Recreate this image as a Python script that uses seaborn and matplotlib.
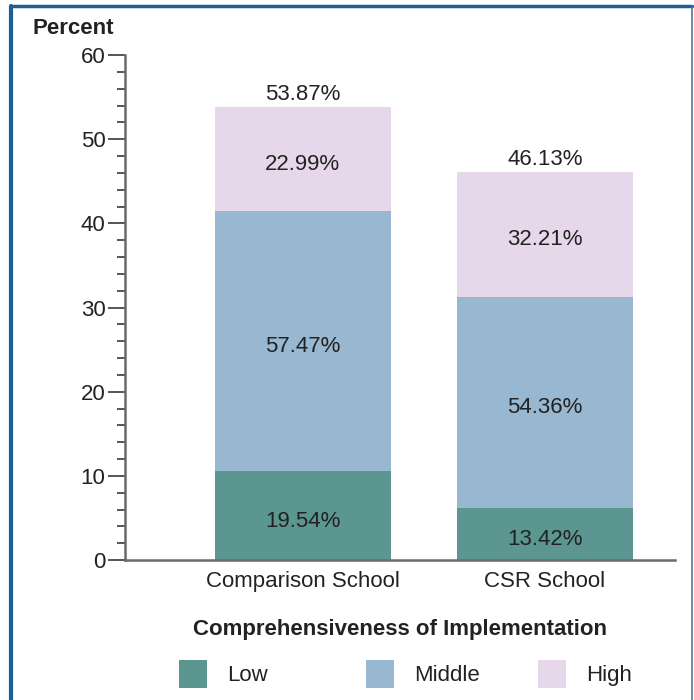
import matplotlib
matplotlib.use("Agg")
import matplotlib.pyplot as plt
from matplotlib.lines import Line2D
from matplotlib.patches import Patch
from matplotlib.ticker import MultipleLocator
import numpy as np
import pandas as pd
import seaborn as sns

# Share of students in each school type, and the breakdown by implementation level
schools = ["Comparison School", "CSR School"]
totals = [53.87, 46.13]
low_pct = [19.54, 13.42]
middle_pct = [57.47, 54.36]
high_pct = [22.99, 32.21]
levels = ["Low", "Middle", "High"]
colors = {"Low": "#5b9691", "Middle": "#98b7d0", "High": "#e6d8ea"}

sns.set_style("white")
plt.rcParams["font.family"] = ["Liberation Sans", "DejaVu Sans"]

total_arr = np.array(totals)
seg = {
    "Low": total_arr * np.array(low_pct) / 100,
    "Middle": total_arr * np.array(middle_pct) / 100,
    "High": total_arr * np.array(high_pct) / 100,
}
cum_low = seg["Low"]
cum_mid = seg["Low"] + seg["Middle"]
cum_high = cum_mid + seg["High"]

fig = plt.figure(figsize=(6.94, 7.0), dpi=100)
ax = fig.add_axes([125 / 694, 1 - 560 / 700, 550 / 694, 505 / 700])

# Stack by overdrawing cumulative heights, tallest first
for cum, lvl in [(cum_high, "High"), (cum_mid, "Middle"), (cum_low, "Low")]:
    df = pd.DataFrame({"school": schools, "value": cum})
    sns.barplot(data=df, x="school", y="value", color=colors[lvl], saturation=1,
                width=0.73, linewidth=0, ax=ax)

text_color = "#222222"
fs = 16
pcts = {"Low": low_pct, "Middle": middle_pct, "High": high_pct}
bottoms = {"Low": np.zeros(2), "Middle": cum_low, "High": cum_mid}
for lvl in levels:
    for i in range(len(schools)):
        yc = bottoms[lvl][i] + seg[lvl][i] / 2
        ax.annotate(f"{pcts[lvl][i]:.2f}%", (i, yc), xytext=(0, -4),
                    textcoords="offset points", ha="center", va="center",
                    fontsize=fs, color=text_color)
for i, t in enumerate(totals):
    ax.annotate(f"{t:.2f}%", (i, t), xytext=(0, 9), textcoords="offset points",
                ha="center", va="center", fontsize=fs, color=text_color)

ax.set_xlim(-0.735, 1.537)
ax.set_ylim(0, 60)
ax.yaxis.set_major_locator(MultipleLocator(10))
ax.yaxis.set_minor_locator(MultipleLocator(2))
ax.tick_params(axis="y", which="major", length=12, width=1.4, color="#555555",
               direction="out", left=True, pad=2, labelsize=fs, labelcolor=text_color)
ax.tick_params(axis="y", which="minor", length=6, width=1.4, color="#555555",
               direction="out", left=True)
ax.tick_params(axis="x", length=0, pad=8, labelsize=fs, labelcolor=text_color)
for side in ["top", "right"]:
    ax.spines[side].set_visible(False)
for side in ["left", "bottom"]:
    ax.spines[side].set_color("#6a6a6a")
    ax.spines[side].set_linewidth(1.8)
ax.set_ylabel("")
ax.set_xlabel("Comprehensiveness of Implementation", fontsize=fs, fontweight="bold",
              color=text_color, labelpad=19)

fig.text(33 / 694, 1 - 28 / 700, "Percent", fontsize=fs, fontweight="bold",
         color=text_color, ha="left", va="center")

# Legend entries placed individually along the bottom row
legend_left = {"Low": 179, "Middle": 366, "High": 538}
for lvl in levels:
    leg = fig.legend(handles=[Patch(facecolor=colors[lvl], edgecolor="none", label=lvl)],
                     loc="center left", bbox_to_anchor=(legend_left[lvl] / 694, 1 - 674 / 700),
                     frameon=False, fontsize=fs, handlelength=1.25, handleheight=1.5,
                     handletextpad=0.9, borderpad=0, borderaxespad=0,
                     labelcolor=text_color)

# Blue frame around the figure
fig.add_artist(Line2D([11 / 694, 11 / 694], [0, 1 - 6 / 700], transform=fig.transFigure,
                      color="#1d5e97", linewidth=3))
fig.add_artist(Line2D([11 / 694, 692 / 694], [1 - 6 / 700, 1 - 6 / 700],
                      transform=fig.transFigure, color="#1d5e97", linewidth=2.5))
fig.add_artist(Line2D([692 / 694, 692 / 694], [0, 1 - 6 / 700], transform=fig.transFigure,
                      color="#4a78a6", linewidth=1.2))

fig.savefig("out.png", dpi=100, facecolor="white")
